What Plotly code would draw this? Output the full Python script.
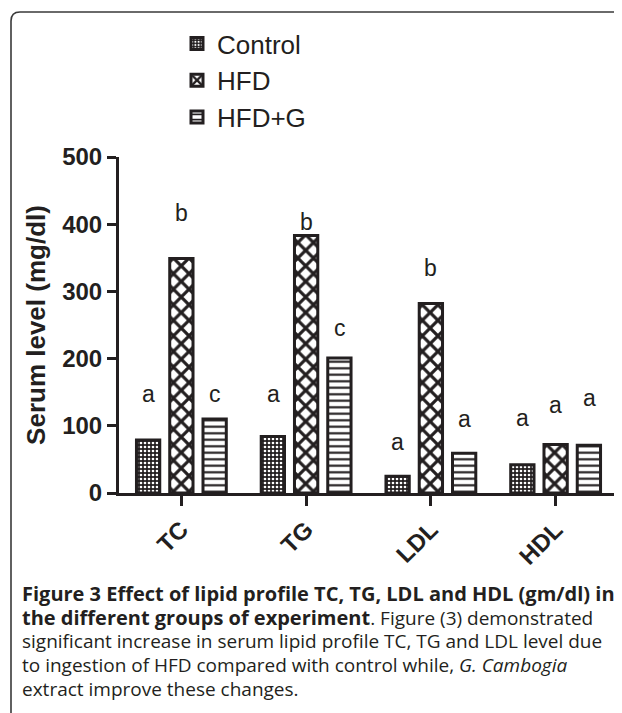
import plotly.graph_objects as go

# ---------------- data ----------------
categories = ["TC", "TG", "LDL", "HDL"]
groups = ["Control", "HFD", "HFD+G"]
control_vals = [79, 84, 25, 42]
hfd_vals = [349, 383, 282, 72]
hfdg_vals = [110, 201, 59, 71]

control_letters = ["a", "a", "a", "a"]
hfd_letters = ["b", "b", "b", "a"]
hfdg_letters = ["c", "c", "a", "a"]
control_letter_y = [148, 148, 76, 112]
hfd_letter_y = [416, 404, 335, 131]
hfdg_letter_y = [148, 245, 110, 142]

y_ticks = [0, 100, 200, 300, 400, 500]

BOLD = '<b><span style="font-size:20px">{}</span></b>'
caption_lines = [
    BOLD.format("Figure 3 Effect of lipid profile TC, TG, LDL and HDL (gm/dl) in"),
    BOLD.format("the different groups of experiment") + ". Figure (3) demonstrated",
    "significant increase in serum lipid profile TC, TG and LDL level due",
    "to ingestion of HFD compared with control while, <i>G. Cambogia</i>",
    "extract improve these changes.",
]

# ---------------- layout geometry (screen pixels) ----------------
OFF = 8                      # default page margin of the html body
W, H = 622 - OFF, 713 - OFF
L, R, T, B = 119, 618, 157, 493   # plot area in screen pixels
INK = "#231f20"


def px(x):
    return (x - L) / (R - L)


def py(y):
    return (B - y) / (B - T)


fig = go.Figure()

patterns = [
    dict(shape=".", fgcolor="white", bgcolor=INK, size=4, solidity=0.35),
    dict(shape="x", fgcolor=INK, bgcolor="white", size=11, solidity=0.5),
    dict(shape="-", fgcolor=INK, bgcolor="white", size=6.5, solidity=0.33),
]
series = [control_vals, hfd_vals, hfdg_vals]

for name, vals, pat in zip(groups, series, patterns):
    fig.add_trace(go.Bar(
        x=categories, y=vals, name=name,
        marker=dict(color="white", line=dict(color=INK, width=3), pattern=pat),
        legendgroup=name,
    ))

# significance letters
letters_all = [control_letters, hfd_letters, hfdg_letters]
letter_y_all = [control_letter_y, hfd_letter_y, hfdg_letter_y]
shifts = [-33, 0, 34]
for letters, ly, sh in zip(letters_all, letter_y_all, shifts):
    for cat, lt, yy in zip(categories, letters, ly):
        fig.add_annotation(x=cat, y=yy, text=lt, showarrow=False, xshift=sh,
                           xref="x", yref="y", yanchor="middle",
                           font=dict(family="Arial, Liberation Sans", size=23, color=INK))

# caption
cap_y = [593, 617, 641, 665, 689]
for line, yy in zip(caption_lines, cap_y):
    fig.add_annotation(x=px(20), y=py(yy), xref="paper", yref="paper", text=line,
                       showarrow=False, xanchor="left", yanchor="middle",
                       font=dict(family="Open Sans", size=19, color=INK))

# frame (rounded top-left corner)
r = 9
path = (f"M {px(11)},{py(713)} L {px(11)},{py(12 + r)} "
        f"Q {px(11)},{py(12)} {px(11 + r)},{py(12)} L {px(625)},{py(12)}")
fig.add_shape(type="path", path=path, xref="paper", yref="paper",
              line=dict(color="#3a3a3a", width=1.6))

fig.update_layout(
    width=W, height=H,
    template="none",
    margin=dict(l=L - OFF, r=622 - R, t=T - OFF, b=713 - B, autoexpand=False),
    paper_bgcolor="white", plot_bgcolor="white",
    barmode="group", bargap=0.2, bargroupgap=0.3,
    showlegend=True,
    legend=dict(x=px(177), y=py(20), xanchor="left", yanchor="top",
                font=dict(family="Arial, Liberation Sans", size=26, color=INK),
                bgcolor="rgba(0,0,0,0)", tracegroupgap=6, traceorder="normal"),
    xaxis=dict(
        range=[-0.5, 3.5], showline=True, linecolor=INK, linewidth=3,
        ticks="outside", ticklen=10, tickwidth=3, tickcolor=INK,
        tickangle=-45, showgrid=False, zeroline=False, automargin=False,
        tickfont=dict(family="Arial, Liberation Sans", size=24, color=INK, weight="bold"),
    ),
    yaxis=dict(
        range=[0, 500], tickvals=y_ticks, showline=True, linecolor=INK, linewidth=3,
        ticks="outside", ticklen=9, tickwidth=3, tickcolor=INK,
        showgrid=False, zeroline=False, automargin=False,
        tickfont=dict(family="Arial, Liberation Sans", size=24, color=INK, weight="bold"),
        title=dict(text="<b>Serum level (mg/dl)</b>", standoff=10,
                   font=dict(family="Arial, Liberation Sans", size=26, color=INK)),
    ),
)

fig.write_html("out.html")
